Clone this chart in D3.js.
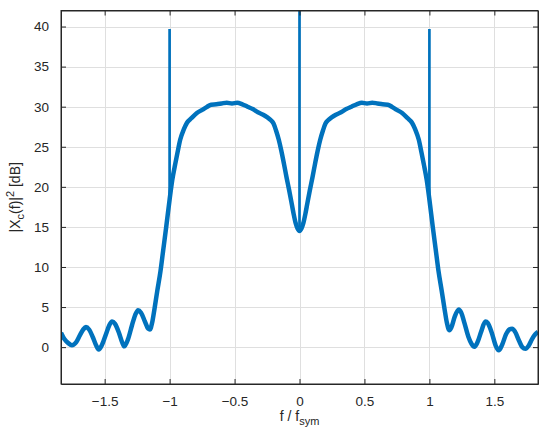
<!DOCTYPE html>
<html>
<head>
<meta charset="utf-8">
<script src="https://cdn.jsdelivr.net/npm/d3@7/dist/d3.min.js"></script>
<style>
  html, body { margin: 0; padding: 0; background: #fff; }
  svg { display: block; font-family: "Liberation Sans", Arial, Helvetica, sans-serif; }
</style>
</head>
<body>
<svg id="chart" width="550" height="441"></svg>
<script>
// ---- data ----
const freq = [
  -1.836, -1.81, -1.78, -1.752, -1.72, -1.69, -1.665, -1.644, -1.62, -1.59, -1.565, -1.546, -1.52, -1.49, -1.465, -1.443, -1.42, -1.39, -1.365, -1.349,
  -1.32, -1.29, -1.265, -1.243, -1.22, -1.19, -1.165, -1.152, -1.135, -1.118, -1.095, -1.07, -1.05, -1.026, -1.0,
  -0.98, -0.956, -0.94, -0.918, -0.89, -0.866, -0.83, -0.79, -0.75, -0.71, -0.68, -0.64, -0.60, -0.56, -0.52, -0.48, -0.44, -0.40,
  -0.36, -0.32, -0.28, -0.25, -0.22, -0.20, -0.18, -0.16, -0.14, -0.12, -0.10, -0.08, -0.06, -0.045, -0.03, -0.015, 0.0,
  0.015, 0.03, 0.045, 0.06, 0.08, 0.10, 0.12, 0.14, 0.16, 0.18, 0.20, 0.22, 0.25, 0.28, 0.32, 0.36, 0.40, 0.44, 0.48, 0.52, 0.56, 0.60,
  0.64, 0.68, 0.71, 0.75, 0.79, 0.83, 0.866, 0.89, 0.918, 0.94, 0.956, 0.98, 1.0, 1.026, 1.05, 1.07, 1.095, 1.118,
  1.135, 1.154, 1.17, 1.195, 1.226, 1.245, 1.27, 1.30, 1.325, 1.347, 1.37, 1.40, 1.431, 1.45, 1.48, 1.51, 1.534, 1.56, 1.59,
  1.615, 1.637, 1.66, 1.69, 1.715, 1.739, 1.765, 1.79, 1.815, 1.836
];
const powerDb = [
  1.8, 1.0, 0.5, 0.25, 0.6, 1.5, 2.2, 2.5, 2.2, 1.2, 0.2, -0.3, 0.3, 1.6, 2.7, 3.2, 2.9, 1.8, 0.6, 0.1,
  1.0, 2.7, 4.0, 4.6, 4.3, 3.2, 2.3, 2.2, 3.0, 4.6, 7.0, 9.5, 12.0, 15.0, 18.4,
  20.8, 22.9, 24.2, 25.9, 27.2, 28.0, 28.6, 29.2, 29.6, 30.0, 30.25, 30.3, 30.4, 30.5, 30.4, 30.5, 30.3, 30.0,
  29.7, 29.3, 29.0, 28.7, 28.3, 27.9, 27.0, 25.9, 24.5, 22.9, 21.2, 19.6, 17.9, 16.6, 15.5, 14.8, 14.5,
  14.8, 15.5, 16.6, 17.9, 19.6, 21.2, 22.9, 24.5, 25.9, 27.0, 27.9, 28.3, 28.7, 29.0, 29.3, 29.7, 30.0, 30.3, 30.5, 30.4, 30.5, 30.4,
  30.3, 30.25, 30.0, 29.6, 29.2, 28.6, 28.0, 27.2, 25.9, 24.2, 22.9, 20.8, 18.4, 15.0, 12.0, 9.5, 7.0, 4.6,
  3.0, 2.1, 2.5, 3.8, 4.7, 4.3, 3.0, 1.3, 0.4, 0.05, 0.6, 2.0, 3.2, 3.0, 1.8, 0.2, -0.4, 0.3, 1.6,
  2.2, 2.3, 1.9, 0.8, 0.0, -0.2, 0.2, 1.0, 1.6, 1.9
];
// narrow tones (single-bin spikes) on top of the spectrum
const spikeFreq = [-1, 0, 1];
const spikeBase = [18.4, 14.5, 18.4];
const spikeTop = [39.7, 60, 39.7];

const xTicks = [-1.5, -1, -0.5, 0, 0.5, 1, 1.5];
const yTicks = [0, 5, 10, 15, 20, 25, 30, 35, 40];
const xDomain = [-1.836, 1.836];
const yDomain = [-4.6, 42];

// ---- layout ----
const L = 61, R = 538, T = 10.5, B = 384;
const svg = d3.select("#chart");
const x = d3.scaleLinear().domain(xDomain).range([L, R]);
const y = d3.scaleLinear().domain(yDomain).range([B, T]);
const fmt = d => (d < 0 ? "\u2212" : "") + Math.abs(d);
const blue = "#0072BD";

// grid
const grid = svg.append("g").attr("stroke", "#dfdfdf").attr("stroke-width", 1);
grid.selectAll(".gx").data(xTicks).join("line")
  .attr("x1", d => Math.round(x(d)) + 0.5).attr("x2", d => Math.round(x(d)) + 0.5)
  .attr("y1", T).attr("y2", B);
grid.selectAll(".gy").data(yTicks).join("line")
  .attr("y1", d => Math.round(y(d)) + 0.5).attr("y2", d => Math.round(y(d)) + 0.5)
  .attr("x1", L).attr("x2", R);

// clip
svg.append("clipPath").attr("id", "clip")
  .append("rect").attr("x", L).attr("y", T).attr("width", R - L).attr("height", B - T);

const plot = svg.append("g").attr("clip-path", "url(#clip)");
const data = freq.map((f, i) => [f, powerDb[i]]);
const line = d3.line().x(d => x(d[0])).y(d => y(d[1])).curve(d3.curveMonotoneX);
plot.append("path")
  .datum(data)
  .attr("fill", "none")
  .attr("stroke", blue)
  .attr("stroke-width", 4.5)
  .attr("stroke-linejoin", "round")
  .attr("d", line);
plot.selectAll(".spike").data(spikeFreq).join("line")
  .attr("x1", d => x(d)).attr("x2", d => x(d))
  .attr("y1", (d, i) => y(spikeBase[i])).attr("y2", (d, i) => y(spikeTop[i]))
  .attr("stroke", blue).attr("stroke-width", 2.7);

// axes (ticks inward, box)
const axisColor = "#262626";
const tickLen = 5;
const axBottom = svg.append("g").attr("transform", `translate(0,${B})`)
  .call(d3.axisBottom(x).tickValues(xTicks).tickSizeInner(-tickLen).tickSizeOuter(0).tickPadding(12).tickFormat(fmt));
const axTop = svg.append("g").attr("transform", `translate(0,${T})`)
  .call(d3.axisTop(x).tickValues(xTicks).tickSizeInner(-tickLen).tickSizeOuter(0).tickFormat(""));
const axLeft = svg.append("g").attr("transform", `translate(${L},0)`)
  .call(d3.axisLeft(y).tickValues(yTicks).tickSizeInner(-tickLen).tickSizeOuter(0).tickPadding(12).tickFormat(fmt));
const axRight = svg.append("g").attr("transform", `translate(${R},0)`)
  .call(d3.axisRight(y).tickValues(yTicks).tickSizeInner(-tickLen).tickSizeOuter(0).tickFormat(""));
[axBottom, axTop, axLeft, axRight].forEach(a => {
  a.select(".domain").attr("stroke", axisColor);
  a.selectAll(".tick line").attr("stroke", axisColor);
  a.selectAll(".tick text").attr("fill", "#262626").attr("font-size", 13.5)
    .attr("font-family", "'Liberation Sans', Arial, Helvetica, sans-serif");
});
svg.append("rect").attr("x", L).attr("y", T).attr("width", R - L).attr("height", B - T)
  .attr("fill", "none").attr("stroke", axisColor).attr("stroke-width", 1);

// axis labels
const xl = svg.append("text").attr("x", (L + R) / 2).attr("y", 421)
  .attr("text-anchor", "middle").attr("font-size", 14).attr("fill", "#262626");
xl.append("tspan").text("f / f");
xl.append("tspan").attr("dy", 4).attr("font-size", 11).text("sym");

const yl = svg.append("text")
  .attr("transform", `translate(20,${(T + B) / 2}) rotate(-90)`)
  .attr("text-anchor", "middle").attr("font-size", 14).attr("fill", "#262626");
yl.append("tspan").text("|X");
yl.append("tspan").attr("dy", 4).attr("font-size", 11).text("c");
yl.append("tspan").attr("dy", -4).text("(f)|");
yl.append("tspan").attr("dy", -6).attr("font-size", 11).text("2");
yl.append("tspan").attr("dy", 6).text(" [dB]");
</script>
</body>
</html>
